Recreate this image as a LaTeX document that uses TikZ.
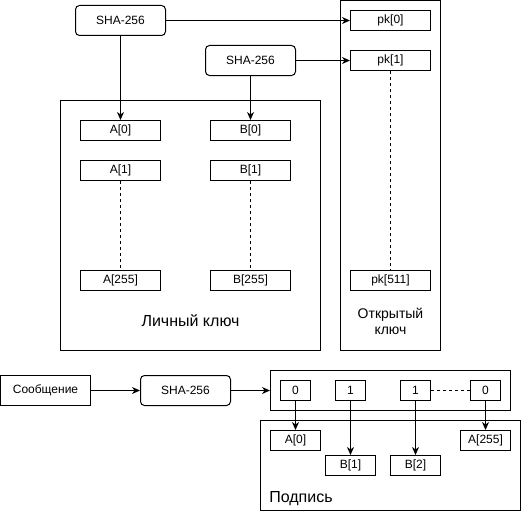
\documentclass[tikz,border=0pt]{standalone}
\usepackage{fontspec}
\setmainfont{Liberation Sans}
\usetikzlibrary{arrows.meta}
\tikzset{
  cell/.style={draw, minimum width=80pt, minimum height=20pt, inner sep=0pt, font=\fontsize{12}{14}\selectfont},
  hashbox/.style={cell, rounded corners=4pt, minimum width=90pt, minimum height=30pt},
  bitcell/.style={cell, minimum width=30pt},
  sigcell/.style={cell, minimum width=50pt},
  frame/.style={draw, inner sep=0pt},
  link/.style={-{Stealth[length=8pt,width=7pt,inset=2.5pt]}},
  gap/.style={dash pattern=on 3pt off 3pt}
}
\begin{document}
\begin{tikzpicture}[x=1pt,y=-1pt,line width=1pt]
\useasboundingbox (-0.5,-0.5) rectangle (520.5,510.5);
% keys
\node[frame, minimum width=260pt, minimum height=250pt] (priv) at (190,225) {};
\node[frame, minimum width=100pt, minimum height=350pt] (pub) at (390,175) {};
\node[hashbox] (sha1) at (120,20) {SHA-256};
\node[hashbox] (sha2) at (250,60) {SHA-256};
\node[cell] (pk0) at (390,20) {pk[0]};
\node[cell] (pk1) at (390,60) {pk[1]};
\node[cell] (pk511) at (390,280) {pk[511]};
\node[cell] (a0) at (120,130) {A[0]};
\node[cell] (a1) at (120,170) {A[1]};
\node[cell] (a255) at (120,280) {A[255]};
\node[cell] (b0) at (250,130) {B[0]};
\node[cell] (b1) at (250,170) {B[1]};
\node[cell] (b255) at (250,280) {B[255]};
\node[font=\fontsize{16}{18}\selectfont] (privlabel) at (190,320) {Личный ключ};
\node[font=\fontsize{14}{16}\selectfont, align=center] (publabel) at (390,321) {Открытый\\ключ};
\draw[link] (sha1) -- (a0);
\draw[link] (sha1) -- (pk0);
\draw[link] (sha2) -- (b0);
\draw[link] (sha2) -- (pk1);
\draw[gap] (a1) -- (a255);
\draw[gap] (b1) -- (b255);
\draw[gap] (pk1) -- (pk511);
% signing
\node[cell, minimum width=90pt, minimum height=30pt] (msg) at (45,390) {Сообщение};
\node[hashbox] (sha3) at (185,390) {SHA-256};
\node[frame, minimum width=240pt, minimum height=40pt] (bits) at (390,390) {};
\node[bitcell] (bit0) at (295,390) {0};
\node[bitcell] (bit1) at (350,390) {1};
\node[bitcell] (bit2) at (415,390) {1};
\node[bitcell] (bit3) at (485,390) {0};
\node[frame, minimum width=260pt, minimum height=90pt] (sig) at (390,465) {};
\node[sigcell] (sa0) at (295,440) {A[0]};
\node[sigcell] (sb1) at (350,465) {B[1]};
\node[sigcell] (sb2) at (415,465) {B[2]};
\node[sigcell] (sa255) at (485,440) {A[255]};
\node[anchor=west, font=\fontsize{16}{18}\selectfont] (siglabel) at (265,498) {Подпись};
\draw[link] (msg) -- (sha3);
\draw[link] (sha3) -- (bits);
\draw[gap] (bit2) -- (bit3);
\draw[link] (bit0) -- (sa0);
\draw[link] (bit1) -- (sb1);
\draw[link] (bit2) -- (sb2);
\draw[link] (bit3) -- (sa255);
\end{tikzpicture}
\end{document}
